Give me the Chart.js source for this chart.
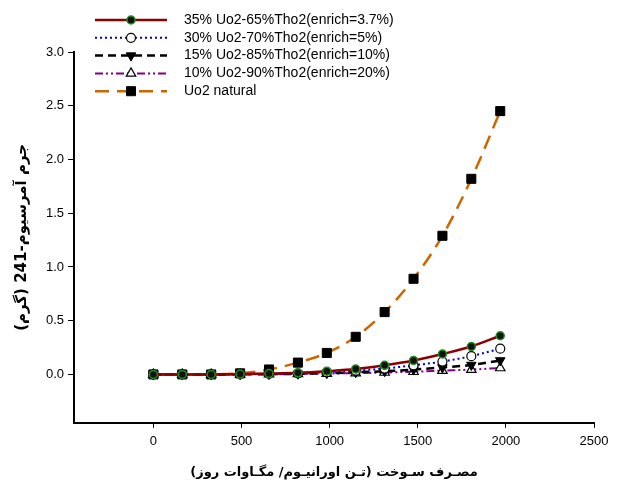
<!DOCTYPE html>
<html>
<head>
<meta charset="utf-8">
<script src="https://cdn.jsdelivr.net/npm/chart.js@4"></script>
<style>
  body { margin: 0; background: #fff; }
  #wrap { width: 621px; height: 484px; }
</style>
</head>
<body>
<div id="wrap"><canvas id="grafico" dir="rtl"></canvas></div>
<script>
// burnup (x) and Am-241 mass (y)
const quemado = [0, 164, 328, 492, 656, 820, 984, 1148, 1312, 1476, 1640, 1804, 1968];
const s35 = [0, 0, 0, 0.003, 0.008, 0.015, 0.03, 0.05, 0.085, 0.13, 0.19, 0.26, 0.36];
const s30 = [0, 0, 0, 0.002, 0.005, 0.01, 0.02, 0.035, 0.055, 0.085, 0.12, 0.17, 0.24];
const s15 = [0, 0, 0, 0.001, 0.003, 0.006, 0.012, 0.02, 0.03, 0.045, 0.065, 0.088, 0.13];
const s10 = [0, 0, 0, 0.001, 0.002, 0.004, 0.008, 0.012, 0.018, 0.025, 0.035, 0.045, 0.06];
const natural = [0, 0, 0, 0.01, 0.046, 0.11, 0.2, 0.35, 0.58, 0.89, 1.29, 1.82, 2.45];

const ticksX = [0, 500, 1000, 1500, 2000, 2500];
const ticksY = [0, 0.5, 1.0, 1.5, 2.0, 2.5, 3.0];

const etiquetas = [
    '35% Uo2-65%Tho2(enrich=3.7%)',
    '30% Uo2-70%Tho2(enrich=5%)',
    '15% Uo2-85%Tho2(enrich=10%)',
    '10% Uo2-90%Tho2(enrich=20%)',
    'Uo2 natural'
];
const tituloX = 'مصـرف سـوخت (تـن اورانیـوم/ مگـاوات روز)';
const tituloY = 'جرم آمرسیوم-241 (گرم)';

function puntos(valores) {
    return quemado.map((x, i) => ({ x: x, y: valores[i] }));
}

const estilos = [
    { color: '#8b0000', dash: [], width: 2.5, punto: 'circle', fondo: '#111', borde: '#1f8f1f', bw: 1.5, radio: 4, rot: 0 },
    { color: '#0000cc', dash: [2, 3], width: 2, punto: 'circle', fondo: '#fff', borde: '#000', bw: 1.2, radio: 4.5, rot: 0 },
    { color: '#000', dash: [8, 5], width: 2.5, punto: 'triangle', fondo: '#000', borde: '#000', bw: 1, radio: 5.5, rot: 180 },
    { color: '#800080', dash: [8, 3, 2, 3, 2, 3], width: 2, punto: 'triangle', fondo: '#fff', borde: '#000', bw: 1.2, radio: 5.5, rot: 0 },
    { color: '#cc6600', dash: [14, 8], width: 2.5, punto: 'rect', fondo: '#000', borde: '#000', bw: 1, radio: 6.4, rot: 0 }
];
const series = [s35, s30, s15, s10, natural];

const datasets = series.map((s, i) => ({
    label: etiquetas[i],
    data: puntos(s),
    borderColor: estilos[i].color,
    borderWidth: estilos[i].width,
    borderDash: estilos[i].dash,
    cubicInterpolationMode: 'monotone',
    pointStyle: estilos[i].punto,
    pointRotation: estilos[i].rot,
    pointRadius: estilos[i].radio,
    pointBackgroundColor: estilos[i].fondo,
    pointBorderColor: estilos[i].borde,
    pointBorderWidth: estilos[i].bw,
    fill: false
}));

// legend drawn by hand, top-left over the plot
const leyenda = {
    id: 'leyenda',
    afterDraw(chart) {
        const ctx = chart.ctx;
        ctx.save();
        ctx.direction = 'ltr';
        ctx.font = '14px "Liberation Sans", Arial, sans-serif';
        ctx.textBaseline = 'middle';
        ctx.textAlign = 'left';
        chart.data.datasets.forEach((ds, i) => {
            const y = 20 + i * 17.8;
            ctx.strokeStyle = ds.borderColor;
            ctx.lineWidth = ds.borderWidth;
            ctx.setLineDash(ds.borderDash);
            ctx.beginPath();
            ctx.moveTo(95, y);
            ctx.lineTo(167, y);
            ctx.stroke();
            ctx.setLineDash([]);
            ctx.fillStyle = ds.pointBackgroundColor;
            ctx.strokeStyle = ds.pointBorderColor;
            ctx.lineWidth = ds.pointBorderWidth;
            Chart.helpers.drawPoint(ctx, {
                pointStyle: ds.pointStyle,
                rotation: ds.pointRotation,
                radius: ds.pointRadius,
                borderWidth: ds.pointBorderWidth
            }, 131, y);
            ctx.fillStyle = '#000';
            ctx.fillText(ds.label, 184, y);
        });
        ctx.restore();
    }
};

const fuenteTicks = { family: '"Liberation Sans", Arial, sans-serif', size: 13 };
const fuenteTituloX = { family: '"DejaVu Sans", sans-serif', size: 13, weight: 'bold' };
const fuenteTituloY = { family: '"DejaVu Sans", sans-serif', size: 15, weight: 'bold' };

new Chart(document.getElementById('grafico'), {
    type: 'line',
    data: { datasets: datasets },
    plugins: [leyenda],
    options: {
        responsive: true,
        maintainAspectRatio: false,
        animation: false,
        layout: { padding: { top: 52, right: 27, left: 5, bottom: 4 } },
        plugins: { legend: { display: false }, tooltip: { enabled: false } },
        scales: {
            x: {
                type: 'linear',
                min: -450,
                max: 2500,
                afterBuildTicks: s => { s.ticks = ticksX.map(v => ({ value: v })); },
                ticks: { color: '#000', font: fuenteTicks, padding: 6, maxRotation: 0, callback: v => String(v) },
                grid: { drawOnChartArea: false, drawTicks: true, tickLength: 5, color: '#000', tickWidth: 1 },
                border: { display: true, color: '#000', width: 2 },
                title: { display: true, text: tituloX, color: '#000', font: fuenteTituloX, padding: { top: 9, bottom: 0 } }
            },
            y: {
                min: -0.45,
                max: 3.0,
                afterBuildTicks: s => { s.ticks = ticksY.map(v => ({ value: v })); },
                ticks: { color: '#000', font: fuenteTicks, padding: 4, callback: v => v.toFixed(1) },
                grid: { drawOnChartArea: false, drawTicks: true, tickLength: 6, color: '#000', tickWidth: 1 },
                border: { display: true, color: '#000', width: 2 },
                title: { display: true, text: tituloY, color: '#000', font: fuenteTituloY, padding: { top: 8, bottom: 11 } }
            }
        }
    }
});
</script>
</body>
</html>
